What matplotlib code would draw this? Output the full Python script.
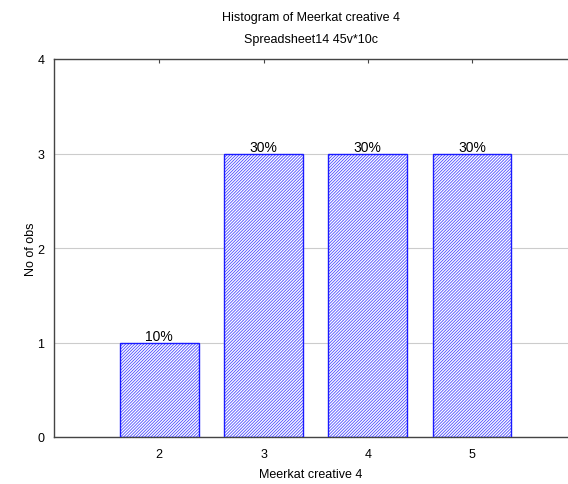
import matplotlib
matplotlib.use('Agg')
from matplotlib import pyplot as plt

categories = [2, 3, 4, 5]
counts = [1, 3, 3, 3]
pct_labels = ['10%', '30%', '30%', '30%']

plt.rcParams['font.family'] = ['Liberation Sans', 'DejaVu Sans']
plt.rcParams['hatch.linewidth'] = 0.6

fig = plt.figure(figsize=(5.68, 4.85), dpi=100)
# axes from x=54 to right edge, y=60 to 438
ax = fig.add_axes([54 / 568, 1 - 438 / 485, (568 - 54) / 568, (438 - 60) / 485])

# hatch pass (fine diagonal lines) then a clean blue outline on top
ax.bar(categories, counts, width=0.755, facecolor='white',
       edgecolor='#4d4dff', linewidth=0, hatch='/' * 11, zorder=2)
bars = ax.bar(categories, counts, width=0.755, facecolor='none',
              edgecolor='#1a1aff', linewidth=1.0, zorder=3)
for b, lab in zip(bars, pct_labels):
    ax.text(b.get_x() + b.get_width() / 2, b.get_height() - 0.01, lab,
            ha='center', va='bottom', fontsize=10, color='black', zorder=4)

ax.set_xlim(0.99, 5.92)
ax.set_ylim(0, 4)
ax.set_yticks([0, 1, 2, 3, 4])
ax.set_xticks(categories)
ax.yaxis.grid(True, color='#cccccc', linewidth=0.8, zorder=0)
ax.set_axisbelow(True)

ax.spines['right'].set_visible(False)
for s in ['left', 'top', 'bottom']:
    ax.spines[s].set_color('#444444')
    ax.spines[s].set_linewidth(1.0)

ax.tick_params(axis='x', direction='in', length=3, top=True, labeltop=False,
               color='#444444', labelsize=9, pad=8)
ax.tick_params(axis='y', length=0, labelsize=9, pad=7)

ax.set_xlabel('Meerkat creative 4', fontsize=9, labelpad=6)
ax.set_ylabel('No of obs', fontsize=9, labelpad=0)

fig.text(311 / 568, 1 - 18 / 485, 'Histogram of Meerkat creative 4',
         ha='center', va='center', fontsize=9)
fig.text(311 / 568, 1 - 40 / 485, 'Spreadsheet14 45v*10c',
         ha='center', va='center', fontsize=9)

fig.savefig('out.png', dpi=100)
